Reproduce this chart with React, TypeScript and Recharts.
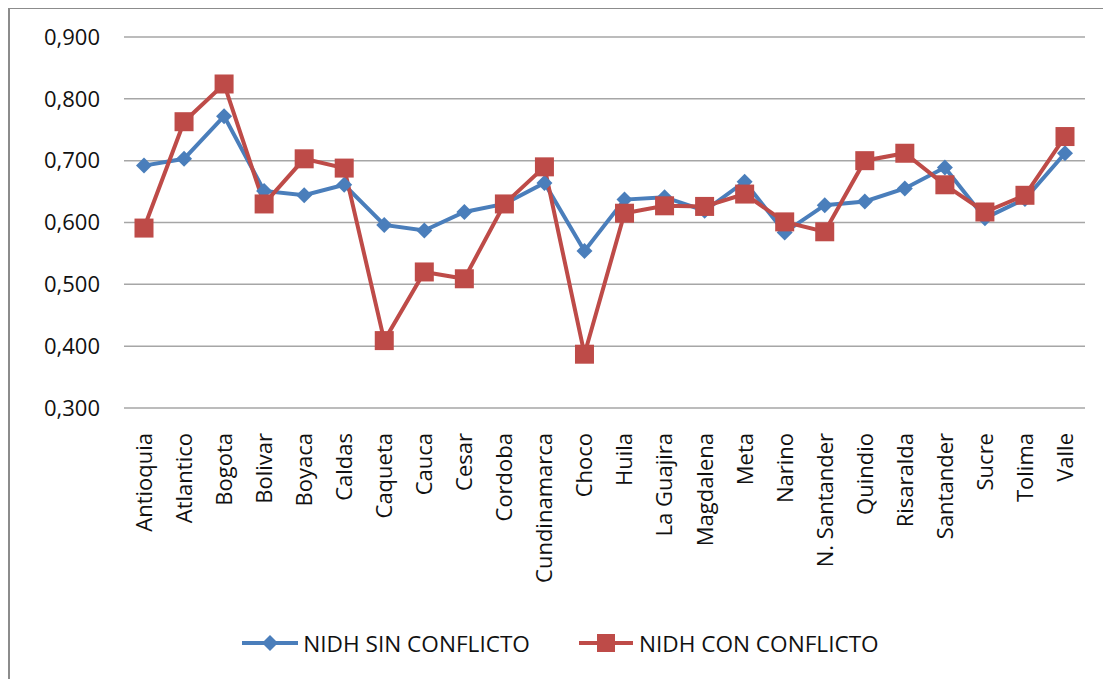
import React from "react";
import { CartesianGrid, Legend, Line, LineChart, XAxis, YAxis } from "recharts";

const departamentos = [
  "Antioquia", "Atlantico", "Bogota", "Bolivar", "Boyaca", "Caldas",
  "Caqueta", "Cauca", "Cesar", "Cordoba", "Cundinamarca", "Choco",
  "Huila", "La Guajira", "Magdalena", "Meta", "Narino", "N. Santander",
  "Quindio", "Risaralda", "Santander", "Sucre", "Tolima", "Valle",
];

const sinConflicto = [
  0.692, 0.703, 0.772, 0.651, 0.644, 0.661,
  0.596, 0.587, 0.617, 0.630, 0.664, 0.554,
  0.637, 0.641, 0.619, 0.666, 0.584, 0.628,
  0.634, 0.655, 0.689, 0.607, 0.638, 0.712,
];

const conConflicto = [
  0.591, 0.763, 0.824, 0.630, 0.703, 0.688,
  0.409, 0.520, 0.509, 0.630, 0.690, 0.387,
  0.615, 0.627, 0.626, 0.646, 0.601, 0.585,
  0.700, 0.712, 0.661, 0.617, 0.644, 0.739,
];

const yTicks = [0.3, 0.4, 0.5, 0.6, 0.7, 0.8, 0.9];

const data = departamentos.map((name, i) => ({
  name,
  sin: sinConflicto[i],
  con: conConflicto[i],
}));

const BLUE = "#4A7EBB";
const RED = "#BE4B48";
const FONT = "'Open Sans', sans-serif";

const Diamond = (props: any) => {
  const { cx, cy } = props;
  if (cx == null || cy == null) return null;
  const r = 8;
  return (
    <path
      d={`M${cx},${cy - r}L${cx + r},${cy}L${cx},${cy + r}L${cx - r},${cy}Z`}
      fill={BLUE}
    />
  );
};

const Square = (props: any) => {
  const { cx, cy } = props;
  if (cx == null || cy == null) return null;
  const s = 19;
  return <rect x={cx - s / 2} y={cy - s / 2} width={s} height={s} fill={RED} />;
};

const CategoryTick = (props: any) => {
  const { x, y, payload } = props;
  return (
    <text
      x={x}
      y={y + 25}
      transform={`rotate(-90, ${x}, ${y + 25})`}
      textAnchor="end"
      dy="0.36em"
      fontSize={22}
      fontFamily={FONT}
      fill="#111"
    >
      {payload.value}
    </text>
  );
};

const LegendContent = () => (
  <div
    style={{
      display: "flex",
      justifyContent: "center",
      alignItems: "center",
      height: 40,
      paddingLeft: 28,
      fontFamily: FONT,
      fontSize: 22.6,
      color: "#111",
    }}
  >
    <svg width={56} height={20} style={{ marginRight: 5 }}>
      <line x1={0} y1={10} x2={56} y2={10} stroke={BLUE} strokeWidth={4} />
      <path d="M28,2L36,10L28,18L20,10Z" fill={BLUE} />
    </svg>
    <span>NIDH SIN CONFLICTO</span>
    <svg width={54} height={20} style={{ marginLeft: 49, marginRight: 6 }}>
      <line x1={0} y1={10} x2={54} y2={10} stroke={RED} strokeWidth={4} />
      <rect x={18} y={1} width={18} height={18} fill={RED} />
    </svg>
    <span>NIDH CON CONFLICTO</span>
  </div>
);

export default function App() {
  return (
    <div style={{ position: "relative", width: 1103, height: 671 }}>
      <div
        style={{
          position: "absolute",
          left: 0,
          top: -1,
          width: 1110,
          height: 700,
          borderLeft: "2px solid #8c8c8c",
          borderTop: "2px solid #8c8c8c",
          boxSizing: "border-box",
        }}
      />
      <LineChart
        width={1103}
        height={671}
        data={data}
        margin={{ top: 29, right: 26, left: 0, bottom: 16 }}
      >
        <CartesianGrid vertical={false} stroke="#a6a6a6" strokeWidth={1.5} />
        <XAxis
          dataKey="name"
          interval={0}
          height={215}
          padding={{ left: 20, right: 20 }}
          axisLine={false}
          tickLine={false}
          tickSize={0}
          tickMargin={0}
          tick={<CategoryTick />}
        />
        <YAxis
          width={116}
          domain={[0.3, 0.9]}
          ticks={yTicks}
          axisLine={false}
          tickLine={false}
          tickSize={0}
          tickMargin={24}
          tickFormatter={(v: number) => v.toFixed(3).replace(".", ",")}
          tick={{ fontSize: 22, fontFamily: FONT, fill: "#111" }}
        />
        <Legend verticalAlign="bottom" height={40} content={<LegendContent />} />
        <Line
          dataKey="sin"
          name="NIDH SIN CONFLICTO"
          stroke={BLUE}
          strokeWidth={4}
          dot={<Diamond />}
          activeDot={false}
          isAnimationActive={false}
        />
        <Line
          dataKey="con"
          name="NIDH CON CONFLICTO"
          stroke={RED}
          strokeWidth={4}
          dot={<Square />}
          activeDot={false}
          isAnimationActive={false}
        />
      </LineChart>
    </div>
  );
}
